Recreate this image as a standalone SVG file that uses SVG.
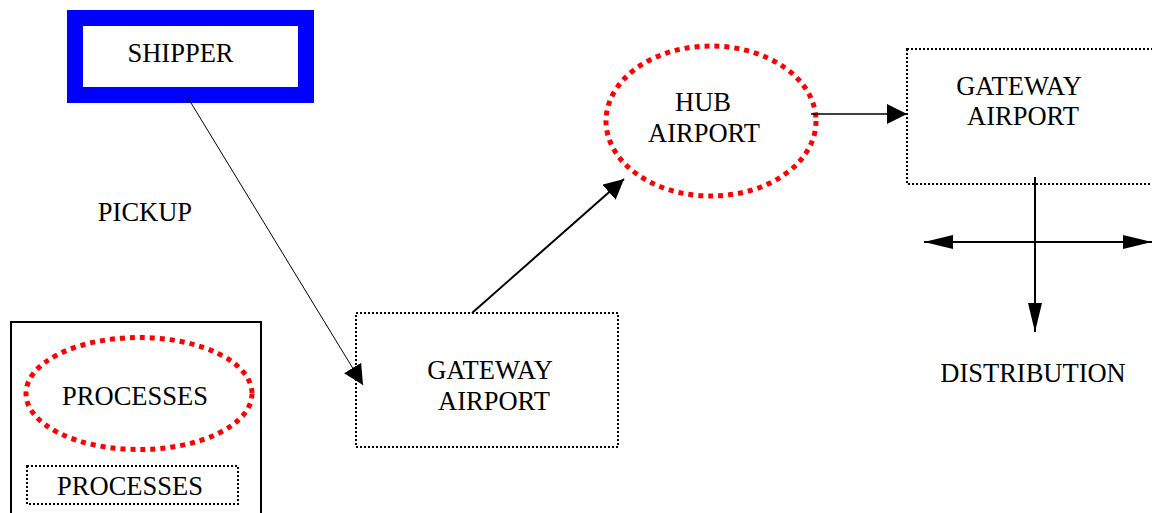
<svg xmlns="http://www.w3.org/2000/svg" width="1152" height="513" viewBox="0 0 1152 513">
<style>
text{font-family:"Liberation Serif","Times New Roman",serif;font-size:26.5px;fill:#000;text-anchor:middle}
.dotbox{fill:#fff;stroke:#000;stroke-width:2;stroke-dasharray:2 2}
.proc{fill:#fff;stroke:#f00;stroke-width:5;stroke-dasharray:5 5}
.ln{stroke:#000;fill:none}
</style>
<defs>
<marker id="ah" markerUnits="userSpaceOnUse" markerWidth="20" markerHeight="20" refX="20" refY="10" orient="auto"><path d="M0,0 L20,10 L0,20 z" fill="#000"/></marker>
<marker id="ahl" markerUnits="userSpaceOnUse" markerWidth="30" markerHeight="14" refX="29" refY="7" orient="auto-start-reverse"><path d="M0,0 L29,7 L0,14 z" fill="#000"/></marker>
</defs>
<rect width="1152" height="513" fill="#fff"/>
<g id="legend">
<rect x="11" y="322" width="250" height="200" fill="#fff" stroke="#000" stroke-width="2"/>
<ellipse cx="139" cy="393.5" rx="113" ry="56" class="proc"/>
<text x="135" y="405">PROCESSES</text>
<rect x="27" y="466" width="211" height="38" class="dotbox"/>
<text x="130" y="495">PROCESSES</text>
</g>
<g id="shipper">
<rect x="75" y="18" width="231" height="77" fill="#fff" stroke="#00f" stroke-width="16"/>
<text x="180.5" y="62">SHIPPER</text>
</g>
<g id="pickup"><text x="145" y="221">PICKUP</text></g>
<g id="gateway1">
<rect x="356" y="313" width="262" height="134" class="dotbox"/>
<text x="490" y="379">GATEWAY</text>
<text x="494" y="410">AIRPORT</text>
</g>
<g id="hub">
<ellipse cx="711" cy="121" rx="105" ry="75" class="proc"/>
<text x="703" y="111">HUB</text>
<text x="704" y="142">AIRPORT</text>
</g>
<g id="gateway2">
<rect x="907" y="49" width="270" height="135" class="dotbox"/>
<text x="1019" y="95">GATEWAY</text>
<text x="1023" y="125">AIRPORT</text>
</g>
<g id="distribution"><text x="1033" y="382">DISTRIBUTION</text></g>
<g id="connectors">
<line x1="188" y1="98" x2="363" y2="385" class="ln" stroke-width="1" marker-end="url(#ah)"/>
<line x1="472" y1="313" x2="624" y2="179" class="ln" stroke-width="2" marker-end="url(#ah)"/>
<line x1="811" y1="114" x2="907" y2="114" class="ln" stroke-width="1.5" marker-end="url(#ah)"/>
<line x1="1035" y1="177" x2="1035" y2="332" class="ln" stroke-width="2" marker-end="url(#ahl)"/>
<line x1="924" y1="242" x2="1152" y2="242" class="ln" stroke-width="2" marker-start="url(#ahl)" marker-end="url(#ahl)"/>
</g>
</svg>
